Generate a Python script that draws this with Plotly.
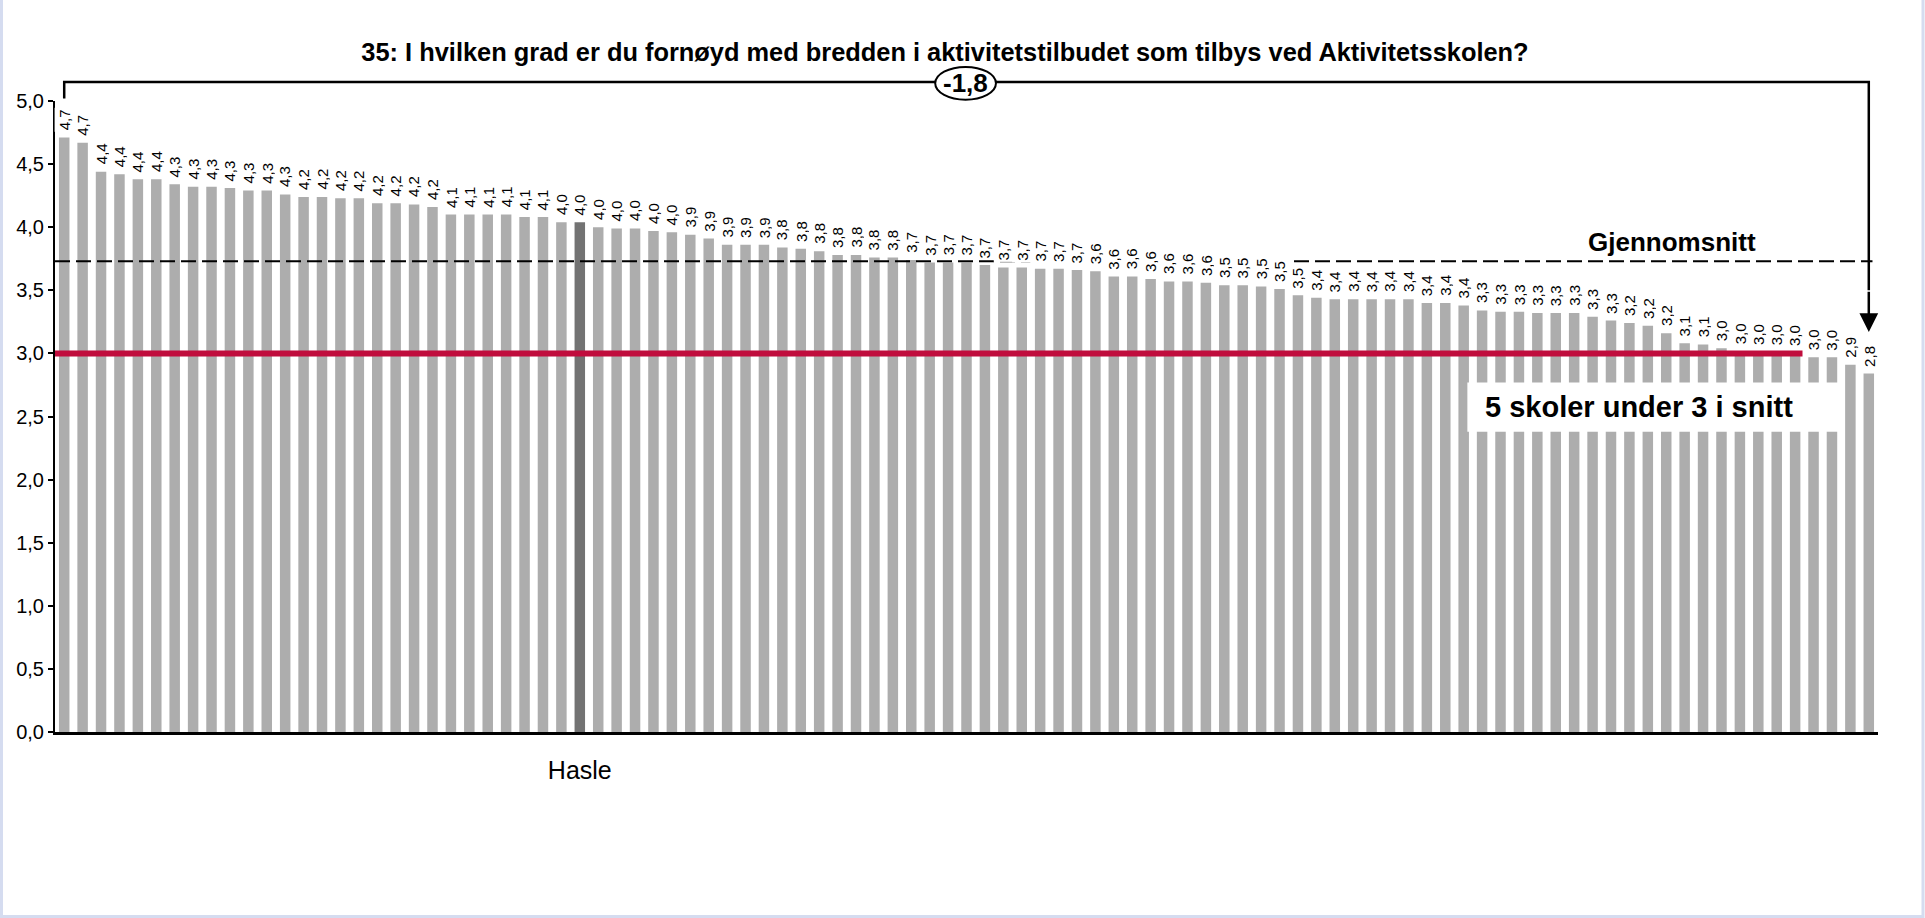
import plotly.graph_objects as go

title = "35: I hvilken grad er du fornøyd med bredden i aktivitetstilbudet som tilbys ved Aktivitetsskolen?"

# mean score per school, sorted high -> low
values = [
    4.71, 4.67, 4.44, 4.42, 4.38, 4.38, 4.34, 4.32, 4.32, 4.31,
    4.29, 4.29, 4.26, 4.24, 4.24, 4.23, 4.23, 4.19, 4.19, 4.18,
    4.16, 4.10, 4.10, 4.10, 4.10, 4.08, 4.08, 4.04, 4.04, 4.00,
    3.99, 3.99, 3.97, 3.96, 3.94, 3.91, 3.86, 3.86, 3.86, 3.84,
    3.83, 3.81, 3.78, 3.78, 3.76, 3.76, 3.74, 3.72, 3.72, 3.72,
    3.70, 3.68, 3.68, 3.67, 3.67, 3.66, 3.65, 3.61, 3.61, 3.59,
    3.57, 3.57, 3.56, 3.54, 3.54, 3.53, 3.51, 3.46, 3.44, 3.43,
    3.43, 3.43, 3.43, 3.43, 3.40, 3.40, 3.38, 3.34, 3.33, 3.33,
    3.32, 3.32, 3.32, 3.29, 3.26, 3.24, 3.22, 3.16, 3.08, 3.07,
    3.04, 3.02, 3.01, 3.01, 3.00, 2.97, 2.97, 2.91, 2.84,
]
highlight_idx = 28
highlight_name = "Hasle"
mean_value = 3.73
threshold = 3.0
last_above_idx = 94      # red line stops after this bar
diff_label = "-1,8"
mean_label = "Gjennomsnitt"
box_label = "5 skoler under 3 i snitt"
y_ticks = [0, 0.5, 1.0, 1.5, 2.0, 2.5, 3.0, 3.5, 4.0, 4.5, 5.0]

W, H = 1925, 918
L, R, T, B = 55, 47, 101, 186
FONT = "Liberation Sans, Arial, sans-serif"
n = len(values)
x = list(range(n))


def fmt(v):
    return f"{v:.1f}".replace(".", ",")


colors = ["#ADADAD"] * n
colors[highlight_idx] = "#737373"

fig = go.Figure(go.Bar(x=x, y=values, marker_color=colors, marker_line_width=0,
                       width=0.57, hoverinfo="y"))

ann = []
for i, v in enumerate(values):
    ann.append(dict(x=i, y=v, text=fmt(v), textangle=-90, showarrow=False,
                    xanchor="center", yanchor="bottom", yshift=5,
                    bgcolor="white", borderpad=1,
                    font=dict(size=15, family=FONT, color="black")))

# paper y for things above the plot
py = lambda v: v / 5.0
top_y = 5.15

shapes = [
    # mean line
    dict(type="line", xref="x", yref="y", x0=-0.5, x1=n - 1 + 0.2, y0=mean_value, y1=mean_value,
         line=dict(color="black", width=2, dash="15px,6px"), layer="above"),
    # threshold line
    dict(type="line", xref="x", yref="y", x0=-0.5, x1=last_above_idx + 0.4, y0=threshold, y1=threshold,
         line=dict(color="#C00D3D", width=6), layer="above"),
    # white box behind label
    dict(type="rect", xref="x", yref="y", x0=76.2, x1=96.4, y0=2.38, y1=2.77,
         fillcolor="white", line=dict(width=0), layer="above"),
    # bracket from first to last
    dict(type="path", xref="x", yref="paper",
         path=f"M 0,{py(values[0] + 0.31)} L 0,{py(top_y)} L {n - 1},{py(top_y)} L {n - 1},{py(3.5)}",
         line=dict(color="black", width=2.5), layer="above"),
    # ellipse with difference
    dict(type="circle", xref="x", yref="paper", x0=47.3, x1=50.6, y0=1.002, y1=1.054,
         fillcolor="white", line=dict(color="black", width=2), layer="above"),
    # frame
    dict(type="path", xref="paper", yref="paper",
         path=f"M {-(L - 1.5) / (W - L - R)},{1 + T / (H - T - B)} "
              f"L {-(L - 1.5) / (W - L - R)},{-(B - 1.5) / (H - T - B)} "
              f"L {1 + (R - 2) / (W - L - R)},{-(B - 1.5) / (H - T - B)} "
              f"L {1 + (R - 2) / (W - L - R)},{1 + T / (H - T - B)}",
         line=dict(color="#D5DCF0", width=3)),
]

ann += [
    dict(x=n - 1, y=values[-1] + 0.33, ax=n - 1, ay=3.5, xref="x", yref="y", axref="x", ayref="y",
         text="", showarrow=True, arrowhead=2, arrowsize=1.5, arrowwidth=2.5, arrowcolor="black",
         standoff=0),
    dict(x=48.95, xref="x", y=1.028, yref="paper", yanchor="middle", text=f"<b>{diff_label}</b>",
         showarrow=False, font=dict(size=26, family=FONT, color="black")),
    dict(x=87.3, y=3.88, xref="x", yref="y", yanchor="middle", text=f"<b>{mean_label}</b>",
         showarrow=False, font=dict(size=26, family=FONT, color="black")),
    dict(x=85.5, y=2.575, xref="x", yref="y", yanchor="middle", text=f"<b>{box_label}</b>",
         showarrow=False, font=dict(size=29, family=FONT, color="black")),
]

fig.update_layout(
    width=W, height=H,
    margin=dict(l=L, r=R, t=T, b=B),
    paper_bgcolor="white", plot_bgcolor="white",
    separators=",.",
    showlegend=False,
    title=dict(text=f"<b>{title}</b>", x=945 / W, xanchor="center", y=1 - 52 / H, yanchor="middle",
               font=dict(size=25.4, family=FONT, color="black")),
    shapes=shapes, annotations=ann,
    font=dict(family=FONT, color="black"),
)
fig.update_xaxes(range=[-0.5, n - 0.5], tickvals=[highlight_idx], ticktext=[highlight_name],
                 ticks="", showgrid=False, zeroline=False, showline=True, linecolor="black",
                 linewidth=3, tickfont=dict(size=25, family=FONT), ticklabelstandoff=14)
fig.update_yaxes(range=[0, 5], tickvals=y_ticks, tickformat=".1f", showgrid=False, zeroline=False,
                 showline=True, linecolor="black", linewidth=2, ticks="outside", ticklen=5,
                 tickwidth=2, tickcolor="black", tickfont=dict(size=20, family=FONT))

fig.write_html("out.html", config={"displayModeBar": False},
               post_script="document.body.style.margin='0';")
